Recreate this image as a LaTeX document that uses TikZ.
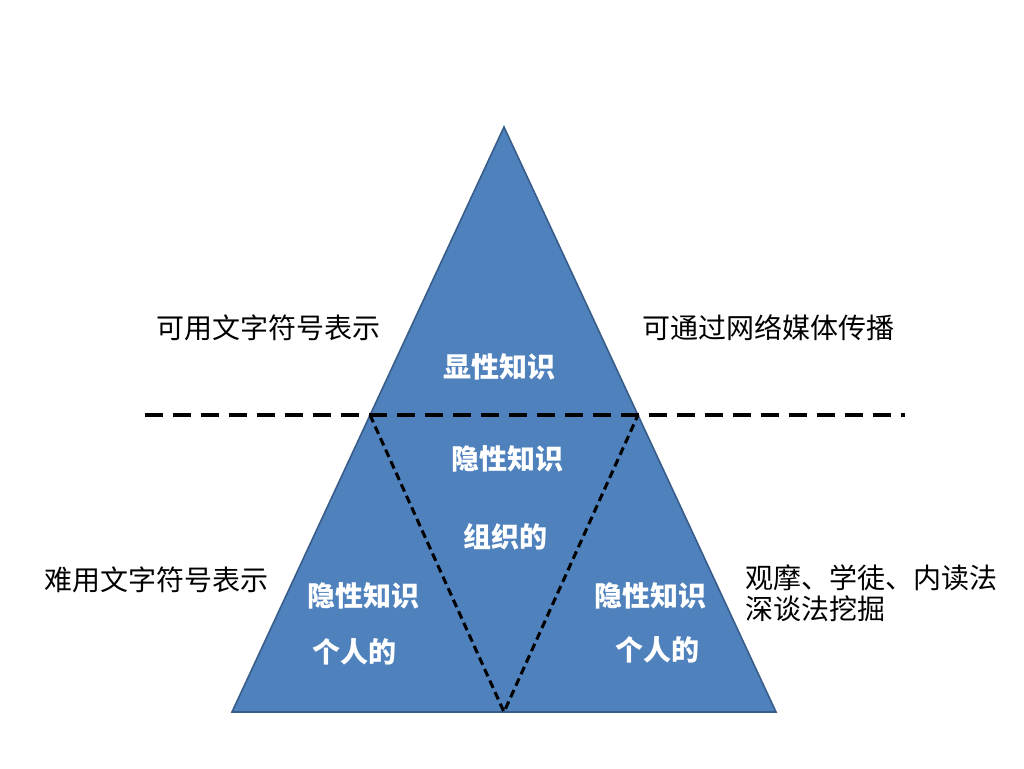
\documentclass[tikz,border=0pt]{standalone}
\usepackage{fontspec}
\newfontfamily\cjk{Noto Sans CJK SC}
\usepackage{tikz}
\usetikzlibrary{positioning}
\definecolor{pyrblue}{HTML}{4F81BD}
\definecolor{pyredge}{HTML}{385D8A}

\begin{document}
\begin{tikzpicture}[
    x=0.75pt, y=-0.75pt,
    inlabel/.style={text=white, font=\cjk\bfseries\fontsize{21}{25}\selectfont, inner sep=1pt},
    outlabel/.style={text=black, font=\cjk\fontsize{21}{25}\selectfont, inner sep=1pt},
    divide/.style={dash pattern=on 13.5pt off 7.5pt, line width=3pt},
    split/.style={dash pattern=on 6pt off 3.5pt, line width=2.3pt},
  ]
  \useasboundingbox (0,0) rectangle (1024,768);

  % corners of the pyramid
  \coordinate (top) at (504,127);
  \coordinate (bl) at (232,712);
  \coordinate (br) at (776,712);
  \coordinate (cut-l) at (370,415);
  \coordinate (cut-r) at (638,415);
  \coordinate (tip) at (504,712);

  \filldraw[fill=pyrblue, draw=pyredge, line width=1.2pt] (top) -- (br) -- (bl) -- cycle;

  % dividing lines
  \draw[divide] (145,415) coordinate (line-a) -- (905,415) coordinate (line-b);
  \draw[split] (cut-l) -- (tip) -- (cut-r);

  % labels inside
  \node[inlabel] (explicit) at (499,367) {显性知识};
  \node[inlabel] (tacit-org) at (507,459) {隐性知识};
  \node[inlabel] (org) at (505,537) {组织的};
  \node[inlabel] (tacit-l) at (363,596) {隐性知识};
  \node[inlabel] (pers-l) at (354,652) {个人的};
  \node[inlabel] (tacit-r) at (650,596) {隐性知识};
  \node[inlabel] (pers-r) at (657,650) {个人的};

  % labels outside
  \node[outlabel] (symbol) at (268,328) {可用文字符号表示};
  \node[outlabel] (media) at (768,328) {可通过网络媒体传播};
  \node[outlabel] (nosymbol) at (156,580) {难用文字符号表示};
  \node[outlabel, anchor=west] (learn) at (744,578) {观摩、学徒、内读法};
  \node[outlabel, anchor=west] (dig) at (744,609) {深谈法挖掘};

\end{tikzpicture}
\end{document}
